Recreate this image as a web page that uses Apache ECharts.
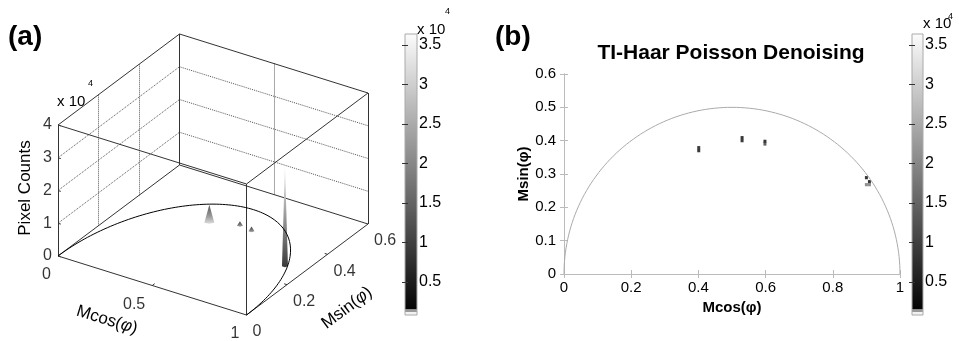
<!DOCTYPE html>
<html>
<head>
<meta charset="utf-8">
<script src="https://cdn.jsdelivr.net/npm/echarts@6/dist/echarts.min.js"></script>
<style>
  html, body { margin: 0; padding: 0; background: #fff; }
  #phasor { width: 959px; height: 341px; }
</style>
</head>
<body>
<div id="phasor"></div>
<script>
// ---- data ----
// (a) 3D histogram axes
var xTicks3d = [0, 0.5, 1];
var yTicks3d = [0, 0.2, 0.4, 0.6];
var zTicks3d = [0, 10000, 20000, 30000, 40000];
// (a) peaks (Mcos, Msin, pixel counts)
var peakX = [0.40, 0.53, 0.60, 0.90];
var peakY = [0.375, 0.405, 0.397, 0.283];
var peakZ = [5500, 1400, 1400, 31000];
// (b) histogram bins (Mcos, Msin, counts)
var binX = [0.401, 0.401, 0.530, 0.530, 0.598, 0.598, 0.900, 0.909, 0.900, 0.909];
var binY = [0.379, 0.370, 0.409, 0.400, 0.398, 0.390, 0.289, 0.277, 0.268, 0.268];
var binVal = [2500, 2000, 1500, 2500, 1500, 9000, 1500, 1500, 17000, 17000];
// colour bar
var cbMin = 800;
var cbMax = 36400;
var cbTicks = [5000, 10000, 15000, 20000, 25000, 30000, 35000];

var FONT = 'Liberation Sans, Arial, Helvetica, sans-serif';

// ---- 3D view of panel (a): projection of (x, y, z) onto a flat helper grid ----
var xMax = xTicks3d[xTicks3d.length - 1];
var yMax = yTicks3d[yTicks3d.length - 1];
var zMax = zTicks3d[zTicks3d.length - 1];
var O3 = [58, 256];        // where (0,0,0) sits
var X3 = [188.5, 59];      // full Mcos range
var Y3 = [121.5, -91];     // full Msin range
var H3 = 131;              // full count range

function proj(x, y, z) {
  return [O3[0] + x / xMax * X3[0] + y / yMax * Y3[0],
          O3[1] + x / xMax * X3[1] + y / yMax * Y3[1] - z / zMax * H3];
}
function seg(a, b) {
  return { coords: [proj(a[0], a[1], a[2]), proj(b[0], b[1], b[2])] };
}

// box edges
var boxEdges = [];
[0, zMax].forEach(function (z) {
  boxEdges.push(seg([0, 0, z], [xMax, 0, z]));
  boxEdges.push(seg([xMax, 0, z], [xMax, yMax, z]));
  boxEdges.push(seg([xMax, yMax, z], [0, yMax, z]));
  boxEdges.push(seg([0, yMax, z], [0, 0, z]));
});
[[0, 0], [xMax, 0], [xMax, yMax], [0, yMax]].forEach(function (c) {
  boxEdges.push(seg([c[0], c[1], 0], [c[0], c[1], zMax]));
});

// dotted grid on the two back walls
var wallGrid = [];
zTicks3d.slice(1, -1).forEach(function (z) {
  wallGrid.push(seg([0, 0, z], [0, yMax, z]));
  wallGrid.push(seg([0, yMax, z], [xMax, yMax, z]));
});
yTicks3d.slice(1, -1).forEach(function (y) {
  wallGrid.push(seg([0, y, 0], [0, y, zMax]));
});
xTicks3d.slice(1, -1).forEach(function (x) {
  wallGrid.push(seg([x, yMax, 0], [x, yMax, zMax]));
});

// little tick marks
var tickSegs = [];
zTicks3d.forEach(function (z) { tickSegs.push(seg([0, 0, z], [0.015, 0, z])); });
xTicks3d.slice(1, -1).forEach(function (x) { tickSegs.push(seg([x, 0, 0], [x, 0.012, 0])); });
yTicks3d.slice(1, -1).forEach(function (y) { tickSegs.push(seg([xMax, y, 0], [xMax - 0.015, y, 0])); });

// universal semicircle (reference curve, centre 0.5, radius 0.5)
var semi = [];
for (var i = 0; i <= 120; i++) {
  var t = Math.PI * i / 120;
  semi.push([0.5 + 0.5 * Math.cos(t), 0.5 * Math.sin(t)]);
}
var semi3d = semi.map(function (p) { return proj(p[0], p[1], 0); });

var peakData = peakX.map(function (x, k) { return [x, peakY[k], peakZ[k]]; });
var peakHalfW = [5, 3, 3, 3];
var peakFill = [
  ['#555', '#999', '#ddd'],
  ['#444', '#777', '#aaa'],
  ['#444', '#777', '#aaa'],
  ['#f2f2f2', '#888', '#3a3a3a']
];

var zLabelData = zTicks3d.map(function (z) { var p = proj(0, 0, z); return [p[0], p[1], z / 10000]; });
var xLabelData = xTicks3d.map(function (x) { var p = proj(x, 0, 0); return [p[0], p[1], x]; });
var yLabelData = yTicks3d.map(function (y) { var p = proj(xMax, y, 0); return [p[0], p[1], y]; });

var binData = binX.map(function (x, k) { return [x, binY[k], binVal[k]]; });

var chartDom = document.getElementById('phasor');
var myChart = echarts.init(chartDom);
var option;

function cbRender(params, api) {
  var p1 = api.coord([api.value(0), api.value(3)]);
  var p2 = api.coord([api.value(2), api.value(1)]);
  return {
    type: 'rect',
    shape: { x: p1[0], y: p1[1], width: p2[0] - p1[0], height: p2[1] - p1[1] },
    style: {
      fill: new echarts.graphic.LinearGradient(0, 1, 0, 0, [
        { offset: 0, color: '#f2f2f2' },
        { offset: 0.012, color: '#f2f2f2' },
        { offset: 0.014, color: '#999' },
        { offset: 0.021, color: '#999' },
        { offset: 0.024, color: '#050505' },
        { offset: 1, color: '#fcfcfc' }
      ]),
      stroke: '#aaa',
      lineWidth: 1
    }
  };
}

function cbAxis(grid, pos, labels) {
  return {
    gridIndex: grid, type: 'value', position: pos, min: cbMin, max: cbMax, z: 5,
    axisLine: { show: false },
    splitLine: { show: false },
    axisTick: { show: true, inside: true, length: 3, customValues: cbTicks, lineStyle: { color: '#333' } },
    axisLabel: {
      show: labels, customValues: cbTicks, margin: 2, color: '#000', fontSize: 16, fontFamily: FONT,
      formatter: function (v) { return String(v / 10000); }
    }
  };
}

function txt(s, x, y, size, extra) {
  var st = { text: s, x: 0, y: 0, fontSize: size, fontFamily: FONT, fill: '#000', align: 'left', verticalAlign: 'middle' };
  var el = { type: 'text', x: x, y: y, style: st };
  if (extra) {
    if (extra.rotation !== undefined) el.rotation = extra.rotation;
    for (var k in extra) { if (k !== 'rotation') st[k] = extra[k]; }
  }
  return el;
}
var richPhi = {
  n: { fontSize: 17, fontFamily: FONT, fill: '#000' },
  p: { fontSize: 17, fontFamily: FONT, fontStyle: 'italic', fill: '#000' }
};

option = {
  animation: false,
  backgroundColor: '#fff',
  grid: [
    { left: 0, top: 0, width: 480, height: 341 },
    { left: 564, top: 74, width: 336, height: 200 },
    { left: 405, top: 34, width: 12, height: 281 },
    { left: 912, top: 34, width: 11, height: 281 }
  ],
  xAxis: [
    { gridIndex: 0, type: 'value', min: 0, max: 480, show: false },
    {
      gridIndex: 1, type: 'value', min: 0, max: 1, interval: 0.2, position: 'bottom',
      axisLine: { lineStyle: { color: '#bbb' } },
      axisTick: { inside: true, length: 4, lineStyle: { color: '#bbb' } },
      splitLine: { show: false },
      axisLabel: { color: '#000', fontSize: 15, fontFamily: FONT, margin: 6 },
      name: 'Mcos(φ)', nameLocation: 'middle', nameGap: 23,
      nameTextStyle: { color: '#000', fontSize: 15, fontWeight: 'bold', fontFamily: FONT }
    },
    {
      gridIndex: 1, type: 'value', min: 0, max: 1, interval: 0.2, position: 'top',
      axisLine: { lineStyle: { color: '#bbb' } },
      axisTick: { inside: true, length: 4, lineStyle: { color: '#bbb' } },
      splitLine: { show: false }, axisLabel: { show: false }
    },
    { gridIndex: 2, type: 'value', min: 0, max: 1, show: false },
    { gridIndex: 3, type: 'value', min: 0, max: 1, show: false }
  ],
  yAxis: [
    { gridIndex: 0, type: 'value', min: 0, max: 341, inverse: true, show: false },
    {
      gridIndex: 1, type: 'value', min: 0, max: 0.6, interval: 0.1, position: 'left',
      axisLine: { show: true, lineStyle: { color: '#bbb' } },
      axisTick: { show: true, inside: true, length: 4, lineStyle: { color: '#bbb' } },
      splitLine: { show: false },
      axisLabel: { color: '#000', fontSize: 15, fontFamily: FONT, margin: 8 },
      name: 'Msin(φ)', nameLocation: 'middle', nameGap: 32, nameRotate: 90,
      nameTextStyle: { color: '#000', fontSize: 15, fontWeight: 'bold', fontFamily: FONT }
    },
    {
      gridIndex: 1, type: 'value', min: 0, max: 0.6, interval: 0.1, position: 'right',
      axisLine: { show: true, lineStyle: { color: '#bbb' } },
      axisTick: { show: true, inside: true, length: 4, lineStyle: { color: '#bbb' } },
      splitLine: { show: false }, axisLabel: { show: false }
    },
    cbAxis(2, 'right', true),
    cbAxis(2, 'left', false),
    cbAxis(3, 'right', true),
    cbAxis(3, 'left', false)
  ],
  visualMap: {
    type: 'continuous', show: false, seriesIndex: 9, dimension: 2,
    min: cbMin, max: cbMax, inRange: { color: ['#000000', '#ffffff'] }
  },
  series: [
    {
      type: 'lines', coordinateSystem: 'cartesian2d', xAxisIndex: 0, yAxisIndex: 0,
      data: wallGrid, silent: true,
      lineStyle: { color: '#555', width: 1, type: 'dotted', opacity: 1 }
    },
    {
      type: 'lines', coordinateSystem: 'cartesian2d', xAxisIndex: 0, yAxisIndex: 0,
      data: boxEdges, silent: true,
      lineStyle: { color: '#333', width: 1, opacity: 1 }
    },
    {
      type: 'lines', coordinateSystem: 'cartesian2d', xAxisIndex: 0, yAxisIndex: 0,
      data: tickSegs, silent: true,
      lineStyle: { color: '#333', width: 1, opacity: 1 }
    },
    {
      type: 'line', xAxisIndex: 0, yAxisIndex: 0, data: semi3d, showSymbol: false,
      lineStyle: { color: '#000', width: 1 }, silent: true
    },
    {
      type: 'custom', xAxisIndex: 0, yAxisIndex: 0, data: peakData, silent: true,
      renderItem: function (params, api) {
        var k = params.dataIndex;
        var b = proj(api.value(0), api.value(1), 0);
        var tp = proj(api.value(0), api.value(1), api.value(2));
        var pb = api.coord(b);
        var pt = api.coord(tp);
        var w = peakHalfW[k];
        var f = peakFill[k];
        return {
          type: 'polygon',
          shape: { points: [pt, [pb[0] + w, pb[1]], [pb[0], pb[1] + 1], [pb[0] - w, pb[1]]] },
          style: {
            fill: new echarts.graphic.LinearGradient(0, 0, 0, 1, [
              { offset: 0, color: f[0] }, { offset: 0.6, color: f[1] }, { offset: 1, color: f[2] }
            ])
          }
        };
      }
    },
    {
      type: 'scatter', xAxisIndex: 0, yAxisIndex: 0, data: zLabelData, symbolSize: 0, silent: true,
      label: { show: true, position: 'inside', align: 'right', offset: [-6, 0], color: '#000',
        fontSize: 16, fontFamily: FONT, formatter: function (p) { return String(p.value[2]); } }
    },
    {
      type: 'scatter', xAxisIndex: 0, yAxisIndex: 0, data: xLabelData, symbolSize: 0, silent: true,
      label: { show: true, position: 'inside', align: 'right', offset: [-7, 19], color: '#000',
        fontSize: 16, fontFamily: FONT, formatter: function (p) { return String(p.value[2]); } }
    },
    {
      type: 'scatter', xAxisIndex: 0, yAxisIndex: 0, data: yLabelData, symbolSize: 0, silent: true,
      label: { show: true, position: 'inside', align: 'left', offset: [6, 17], color: '#000',
        fontSize: 16, fontFamily: FONT, formatter: function (p) { return String(p.value[2]); } }
    },
    {
      type: 'line', xAxisIndex: 1, yAxisIndex: 1, data: semi, showSymbol: false,
      lineStyle: { color: '#aaa', width: 1 }, silent: true
    },
    {
      type: 'scatter', xAxisIndex: 1, yAxisIndex: 1, data: binData,
      symbol: 'rect', symbolSize: [3, 3.2], silent: true
    },
    {
      type: 'custom', xAxisIndex: 3, yAxisIndex: 3, data: [[0, cbMin, 1, cbMax]],
      encode: { x: [0, 2], y: [1, 3] }, renderItem: cbRender, silent: true
    },
    {
      type: 'custom', xAxisIndex: 4, yAxisIndex: 5, data: [[0, cbMin, 1, cbMax]],
      encode: { x: [0, 2], y: [1, 3] }, renderItem: cbRender, silent: true
    }
  ],
  graphic: [
    txt('(a)', 8, 37, 28, { fontWeight: 'bold' }),
    txt('(b)', 495, 37, 28, { fontWeight: 'bold' }),
    txt('TI-Haar Poisson Denoising', 731, 53, 21, { align: 'center', fontWeight: 'bold' }),
    txt('Pixel Counts', 25, 188, 17, { align: 'center', rotation: Math.PI / 2 }),
    txt('x 10', 57, 102, 15),
    txt('4', 88, 84, 9),
    { type: 'text', x: 107, y: 320, rotation: -17 * Math.PI / 180,
      style: { text: '{n|Mcos(}{p|φ}{n|)}', rich: richPhi, align: 'center', verticalAlign: 'middle' } },
    { type: 'text', x: 347, y: 308, rotation: 37 * Math.PI / 180,
      style: { text: '{n|Msin(}{p|φ}{n|)}', rich: richPhi, align: 'center', verticalAlign: 'middle' } },
    txt('x 10', 417, 30, 15),
    txt('4', 445, 12, 9),
    txt('x 10', 923, 24, 15),
    txt('4', 948, 17, 9)
  ]
};

option && myChart.setOption(option);
</script>
</body>
</html>
